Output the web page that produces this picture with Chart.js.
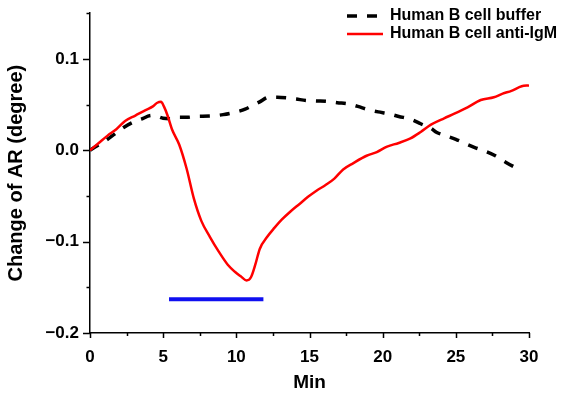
<!DOCTYPE html>
<html>
<head>
<meta charset="utf-8">
<script src="https://cdn.jsdelivr.net/npm/chart.js@4"></script>
<style>
  html, body { margin: 0; padding: 0; background: #fff; }
</style>
</head>
<body>
<canvas id="arChart" width="561" height="394"></canvas>
<script>
// Human B cell buffer (black dashed)
const bufferMin = [0, 0.6, 1.2, 1.7, 2.3, 2.85, 3.5, 4.2, 4.6, 5.0, 5.5, 6.0, 6.6, 7.2, 8.2, 9.1, 10.0, 10.6, 11.1, 11.6,
    12.2, 12.8, 13.4, 14.1, 14.8, 15.5, 16.2, 16.9, 17.6, 18.3, 19.0, 19.7, 20.4, 21.1, 21.9, 22.6, 23.3, 23.7,
    24.3, 25.0, 25.7, 26.3, 27.0, 27.7, 28.4, 29.2, 29.4];
const bufferAR = [0, 0.006, 0.012, 0.018, 0.025, 0.030, 0.034, 0.038, 0.037, 0.035, 0.0345, 0.036, 0.036, 0.037, 0.0374,
    0.039, 0.042, 0.045, 0.049, 0.053, 0.058, 0.058, 0.0574, 0.056, 0.0545, 0.054, 0.0535, 0.052, 0.051, 0.048,
    0.0445, 0.042, 0.040, 0.037, 0.034, 0.029, 0.024, 0.0195, 0.016, 0.012, 0.007, 0.003, -0.001, -0.006, -0.013,
    -0.020, -0.0215];

// Human B cell anti-IgM (red)
const igmMin = [0, 0.6, 1.2, 1.8, 2.4, 3.1, 3.8, 4.3, 4.6, 4.85, 5.05, 5.3, 5.6, 6.1, 6.6, 7.1, 7.6, 8.2, 8.8, 9.4,
    9.9, 10.3, 10.7, 11.0, 11.3, 11.6, 12.1, 12.6, 13.1, 13.7, 14.3, 14.9, 15.5, 16.1, 16.7, 17.3, 18.0, 18.9,
    19.6, 20.3, 21.1, 21.9, 22.6, 23.3, 24.2, 24.9, 25.8, 26.7, 27.6, 28.2, 28.8, 29.5, 30.0];
const igmAR = [0, 0.008, 0.016, 0.023, 0.032, 0.038, 0.044, 0.048, 0.052, 0.053, 0.048, 0.038, 0.023, 0.006, -0.02,
    -0.053, -0.077, -0.095, -0.111, -0.125, -0.133, -0.138, -0.1425, -0.139, -0.125, -0.108, -0.095, -0.085,
    -0.076, -0.067, -0.059, -0.051, -0.044, -0.038, -0.031, -0.021, -0.014, -0.006, -0.002, 0.004, 0.008, 0.013,
    0.020, 0.028, 0.035, 0.040, 0.047, 0.055, 0.058, 0.062, 0.065, 0.070, 0.071];

// stimulation bar (blue)
const stimMin = [5.4, 11.85];
const stimAR = [-0.163, -0.163];

const xTicks = [0, 5, 10, 15, 20, 25, 30];
const xMinorTicks = [2.5, 7.5, 12.5, 17.5, 22.5, 27.5];
const yTicks = [-0.2, -0.1, 0, 0.1];
const yMinorTicks = [-0.15, -0.05, 0.05, 0.15];

const seriesLabels = ['Human B cell buffer', 'Human B cell anti-IgM'];

function toPoints(xs, ys) {
    return xs.map(function(x, i) { return { x: x, y: ys[i] }; });
}

const fontFamily = '"Liberation Sans", Arial, sans-serif';

// draw outward tick marks (major longer than minor)
const tickMarks = {
    id: 'tickMarks',
    afterDraw(chart) {
        const ctx = chart.ctx;
        const xs = chart.scales.x, ys = chart.scales.y;
        const area = chart.chartArea;
        ctx.save();
        ctx.strokeStyle = '#000';
        ctx.lineWidth = 1.5;
        ctx.beginPath();
        yTicks.forEach(function(v) {
            const p = Math.round(ys.getPixelForValue(v)) + 0.5;
            ctx.moveTo(area.left - 7, p); ctx.lineTo(area.left, p);
        });
        yMinorTicks.forEach(function(v) {
            const p = Math.round(ys.getPixelForValue(v)) + 0.5;
            ctx.moveTo(area.left - 3.5, p); ctx.lineTo(area.left, p);
        });
        xTicks.forEach(function(v) {
            const p = Math.round(xs.getPixelForValue(v)) + 0.5;
            ctx.moveTo(p, area.bottom); ctx.lineTo(p, area.bottom + 5);
        });
        xMinorTicks.forEach(function(v) {
            const p = Math.round(xs.getPixelForValue(v)) + 0.5;
            ctx.moveTo(p, area.bottom); ctx.lineTo(p, area.bottom + 3);
        });
        ctx.stroke();
        ctx.restore();
    }
};

// legend in the top right corner
const lineLegend = {
    id: 'lineLegend',
    afterDraw(chart) {
        const ctx = chart.ctx;
        ctx.save();
        ctx.font = 'bold 16px ' + fontFamily;
        ctx.textBaseline = 'middle';
        ctx.fillStyle = '#000';
        [0, 1].forEach(function(i) {
            const ds = chart.data.datasets[i];
            const y = 16 + i * 18;
            ctx.strokeStyle = ds.borderColor;
            ctx.lineWidth = ds.borderWidth;
            ctx.setLineDash(ds.borderDash || []);
            ctx.beginPath();
            ctx.moveTo(347, y); ctx.lineTo(383, y);
            ctx.stroke();
            ctx.fillText(ds.label, 390, y);
        });
        ctx.restore();
    }
};

new Chart(document.getElementById('arChart').getContext('2d'), {
    type: 'line',
    data: {
        datasets: [
            {
                label: seriesLabels[0],
                data: toPoints(bufferMin, bufferAR),
                borderColor: '#000000',
                borderWidth: 3.5,
                borderDash: [10, 10],
                pointRadius: 0,
                cubicInterpolationMode: 'monotone',
                order: 2
            },
            {
                label: seriesLabels[1],
                data: toPoints(igmMin, igmAR),
                borderColor: '#ff0000',
                borderWidth: 2.5,
                pointRadius: 0,
                cubicInterpolationMode: 'monotone',
                order: 1
            },
            {
                label: 'stimulation',
                data: toPoints(stimMin, stimAR),
                borderColor: '#1010f0',
                borderWidth: 4,
                pointRadius: 0,
                order: 3
            }
        ]
    },
    options: {
        responsive: false,
        animation: false,
        layout: {
            padding: { top: 3, right: 32, left: 0, bottom: 0 }
        },
        plugins: {
            legend: { display: false },
            tooltip: { enabled: false }
        },
        scales: {
            x: {
                type: 'linear',
                min: 0,
                max: 30,
                afterBuildTicks: function(scale) {
                    scale.ticks = xTicks.map(function(v) { return { value: v }; });
                },
                afterFit: function(scale) { scale.height = 61; },
                grid: { display: false },
                border: { display: true, color: '#000', width: 1.5 },
                ticks: {
                    color: '#000',
                    font: { family: fontFamily, size: 17, weight: 'bold' },
                    padding: 6,
                    maxRotation: 0,
                    callback: function(v) { return String(v); }
                },
                title: {
                    display: true,
                    text: 'Min',
                    color: '#000',
                    font: { family: fontFamily, size: 19, weight: 'bold' },
                    padding: { top: 0, bottom: 0 }
                }
            },
            y: {
                type: 'linear',
                min: -0.2,
                max: 0.15,
                afterBuildTicks: function(scale) {
                    scale.ticks = yTicks.map(function(v) { return { value: v }; });
                },
                afterFit: function(scale) { scale.width = 90; },
                grid: { display: false },
                border: { display: true, color: '#000', width: 1.5 },
                ticks: {
                    color: '#000',
                    font: { family: fontFamily, size: 17, weight: 'bold' },
                    padding: 3,
                    callback: function(v) {
                        const s = Math.abs(v).toFixed(1);
                        return v < -1e-9 ? '\u2212' + s : s;
                    }
                },
                title: {
                    display: true,
                    text: 'Change of AR (degree)',
                    color: '#000',
                    font: { family: fontFamily, size: 20, weight: 'bold' },
                    padding: { top: 4, bottom: 0 }
                }
            }
        }
    },
    plugins: [tickMarks, lineLegend]
});
</script>
</body>
</html>
